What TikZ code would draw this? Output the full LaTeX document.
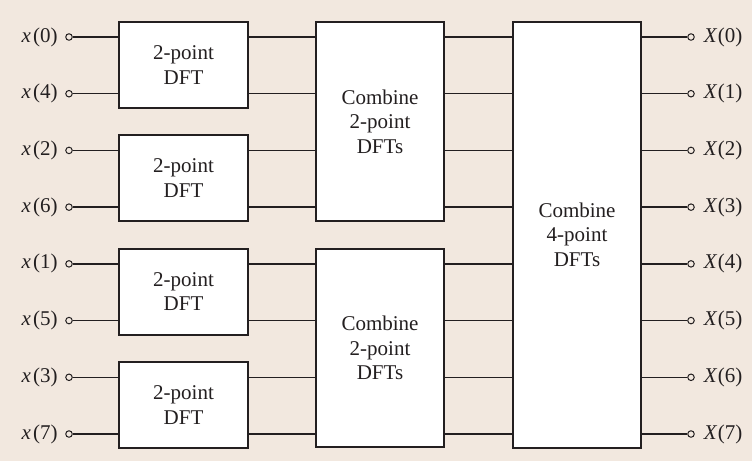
\documentclass[tikz,border=0pt]{standalone}
\usepackage{fontspec}
\setmainfont{Liberation Serif}
\definecolor{bgbeige}{RGB}{242,232,223}
\definecolor{inkc}{RGB}{35,31,32}
\begin{document}
\begin{tikzpicture}[x=1pt,y=-1pt,
  wire/.style={line width=1.3pt, draw=inkc},
  blockbox/.style={draw=inkc, line width=2pt, fill=white, align=center,
    inner sep=0pt, text=inkc, font=\fontsize{21}{24.5}\selectfont},
  port/.style={circle, draw=inkc, line width=1pt, fill=bgbeige,
    inner sep=0pt, minimum size=6.5pt},
  lbl/.style={font=\fontsize{21}{24}\selectfont, inner sep=0pt, text=inkc}]
\def\rg{56.714}
% background
\fill[bgbeige] (0,0) rectangle (752,461);
\useasboundingbox (0,0) rectangle (752,461);

% first stage: four 2-point DFTs
\foreach \k in {0,...,3} {
  \node[blockbox, minimum width=129pt, minimum height=85.7pt]
    (d\k) at (183.5, {37+(2*\k+0.5)*\rg-0.5}) {2-point\\DFT};
}
% second stage: two combiners of 2-point DFTs
\foreach \m in {0,1} {
  \node[blockbox, minimum width=128pt, minimum height=198.6pt]
    (c\m) at (380, {37+(4*\m+1.5)*\rg-0.75}) {Combine\\2-point\\DFTs};
}
% final stage
\node[blockbox, minimum width=128pt, minimum height=425.5pt]
  (f) at (577, 234.75) {Combine\\4-point\\DFTs};

% inputs in bit-reversed order
\foreach \n [count=\i from 0] in {0,4,2,6,1,5,3,7} {
  \node[port] (in\i) at (69, {37+\i*\rg}) {};
  \node[lbl, anchor=east] (inl\i) at ([xshift=-7.5pt]in\i.west) {\textit{x}\kern2pt(\n)};
}
% outputs in natural order
\foreach \i in {0,...,7} {
  \node[port] (out\i) at (691, {37+\i*\rg}) {};
  \node[lbl, anchor=west] (outl\i) at ([xshift=9pt]out\i.east) {\textit{X}\kern0.5pt(\i)};
}

% wiring between stages
\foreach \i in {0,...,7} {
  \pgfmathtruncatemacro{\k}{int(\i/2)}
  \pgfmathtruncatemacro{\m}{int(\i/4)}
  \draw[wire] (in\i) -- (in\i -| d\k.west);
  \draw[wire] (d\k.east |- in\i) -- (c\m.west |- in\i);
  \draw[wire] (c\m.east |- in\i) -- (f.west |- in\i);
  \draw[wire] (f.east |- out\i) -- (out\i);
}
\end{tikzpicture}
\end{document}
